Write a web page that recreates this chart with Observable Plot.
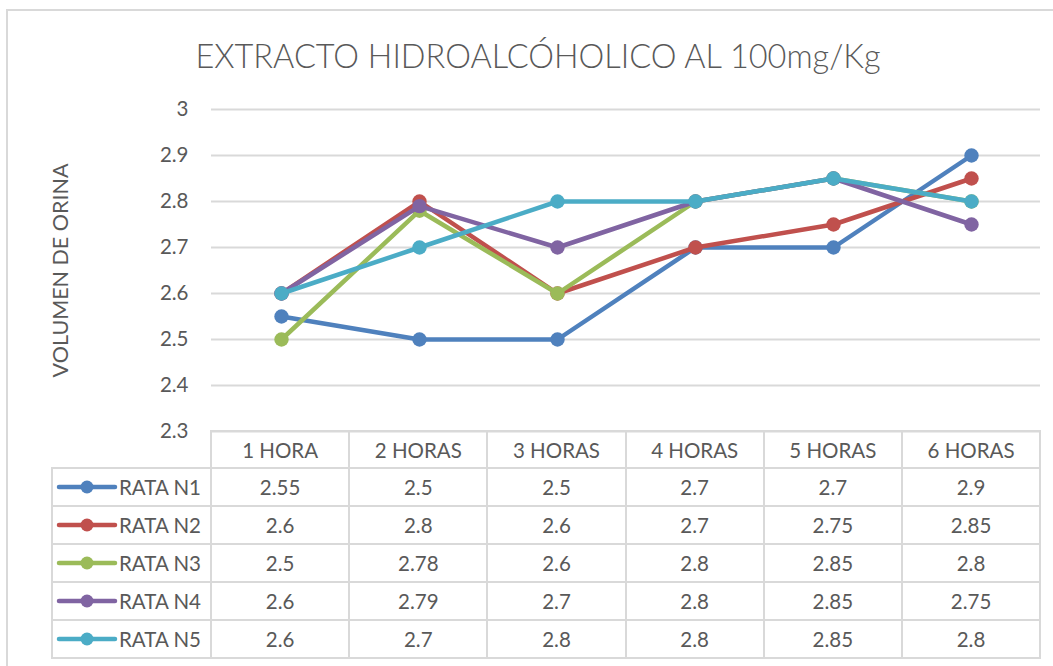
<!DOCTYPE html>
<html>
<head>
<meta charset="utf-8">
<script src="https://cdn.jsdelivr.net/npm/d3@7"></script>
<script src="https://cdn.jsdelivr.net/npm/@observablehq/plot@0.6"></script>
<style>
  html, body { margin: 0; padding: 0; background: #fff; }
  #wrap { position: relative; width: 1053px; height: 666px; overflow: hidden; font-family: Lato, "Open Sans", sans-serif; color: #595959; }
  #frame { position: absolute; left: 6px; top: 9px; width: 1200px; height: 800px; border: 2px solid #d9d9d9; box-sizing: border-box; }
  #title { position: absolute; left: 0; top: 40px; width: 1076px; text-align: center; font-size: 32.5px; line-height: 32px; font-weight: 300; white-space: nowrap; color: #595959; }
  #chart { position: absolute; left: 0; top: 0; }
  #tbl { position: absolute; left: 51px; top: 430px; border-collapse: collapse; table-layout: fixed; font-size: 20.5px; }
  #tbl td { border: 2px solid #d9d9d9; padding: 0; text-align: center; white-space: nowrap; }
  #tbl td.corner { border-top: none; border-left: none; }
  #tbl td.leg { text-align: left; }
  .legcell { display: flex; align-items: center; }
</style>
</head>
<body>
<div id="wrap">
  <div id="frame"></div>
  <div id="chart"></div>
  <div id="title"></div>
  <table id="tbl"></table>
</div>
<script>
const titleText = "EXTRACTO HIDROALCÓHOLICO AL 100mg/Kg";
const yLabel = "VOLUMEN DE ORINA";
const categories = ["1 HORA", "2 HORAS", "3 HORAS", "4 HORAS", "5 HORAS", "6 HORAS"];
const seriesNames = ["RATA N1", "RATA N2", "RATA N3", "RATA N4", "RATA N5"];
const rataN1 = [2.55, 2.5, 2.5, 2.7, 2.7, 2.9];
const rataN2 = [2.6, 2.8, 2.6, 2.7, 2.75, 2.85];
const rataN3 = [2.5, 2.78, 2.6, 2.8, 2.85, 2.8];
const rataN4 = [2.6, 2.79, 2.7, 2.8, 2.85, 2.75];
const rataN5 = [2.6, 2.7, 2.8, 2.8, 2.85, 2.8];
const yTicks = [2.3, 2.4, 2.5, 2.6, 2.7, 2.8, 2.9, 3];
const colors = ["#4f81bd", "#c0504d", "#9bbb59", "#8064a2", "#4bacc6"];

const allValues = [rataN1, rataN2, rataN3, rataN4, rataN5];
const rows = [];
seriesNames.forEach((s, i) => categories.forEach((c, j) => rows.push({ series: s, hour: c, value: allValues[i][j] })));

document.getElementById("title").textContent = titleText;

const marks = [
  Plot.ruleY(yTicks, { stroke: "#d9d9d9", strokeWidth: 2 }),
  Plot.axisY({ ticks: yTicks, tickSize: 0, tickPadding: 23, fontSize: 20.5, label: null, tickFormat: d => String(d), fill: "#595959" }),
  Plot.text([yLabel], { frameAnchor: "left", textAnchor: "middle", lineAnchor: "middle", rotate: -90, dx: -150, dy: 0, fontSize: 21.5, fill: "#595959" })
];
seriesNames.forEach((s, i) => {
  const d = rows.filter(r => r.series === s);
  marks.push(Plot.line(d, { x: "hour", y: "value", stroke: colors[i], strokeWidth: 4.5 }));
  marks.push(Plot.dot(d, { x: "hour", y: "value", fill: colors[i], r: 7.2 }));
});

const chart = Plot.plot({
  width: 1053,
  height: 440,
  marginLeft: 211,
  marginRight: 13,
  marginTop: 109,
  marginBottom: 9,
  style: { fontFamily: "Lato, 'Open Sans', sans-serif", background: "transparent", overflow: "visible" },
  x: { type: "point", domain: categories, padding: 0.5, axis: null },
  y: { domain: [2.3, 3], axis: null },
  marks
});
document.getElementById("chart").appendChild(chart);

// table
const tbl = document.getElementById("tbl");
const colgroup = document.createElement("colgroup");
const c0 = document.createElement("col"); c0.style.width = "159px"; colgroup.appendChild(c0);
categories.forEach(() => { const c = document.createElement("col"); c.style.width = "138.2px"; colgroup.appendChild(c); });
tbl.appendChild(colgroup);
const hr = document.createElement("tr");
hr.style.height = "37px";
const corner = document.createElement("td"); corner.className = "corner"; hr.appendChild(corner);
categories.forEach(c => { const td = document.createElement("td"); td.textContent = c; hr.appendChild(td); });
tbl.appendChild(hr);
seriesNames.forEach((s, i) => {
  const tr = document.createElement("tr");
  tr.style.height = "38px";
  const td0 = document.createElement("td"); td0.className = "leg";
  td0.innerHTML = `<div class="legcell"><svg width="66" height="20"><line x1="6" x2="62" y1="10" y2="10" stroke="${colors[i]}" stroke-width="4.5" stroke-linecap="round"/><circle cx="34" cy="10" r="6.5" fill="${colors[i]}"/></svg><span>${s}</span></div>`;
  tr.appendChild(td0);
  allValues[i].forEach(v => { const td = document.createElement("td"); td.textContent = String(v); tr.appendChild(td); });
  tbl.appendChild(tr);
});
</script>
</body>
</html>
